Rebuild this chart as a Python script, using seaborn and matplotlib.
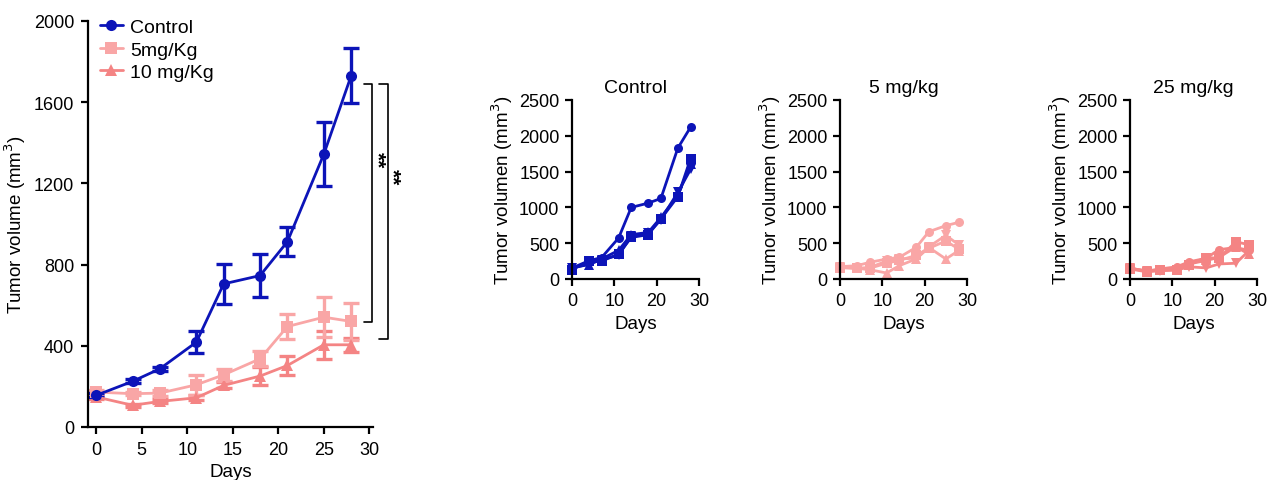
import numpy as np
import pandas as pd
import matplotlib
matplotlib.use("Agg")
import matplotlib.pyplot as plt
import seaborn as sns

sns.set_theme(style="ticks")
plt.rcParams['font.family'] = ['Liberation Sans', 'DejaVu Sans']
plt.rcParams['text.color'] = 'black'
plt.rcParams['axes.labelcolor'] = 'black'
plt.rcParams['xtick.color'] = 'black'
plt.rcParams['ytick.color'] = 'black'

# ---------------- data ----------------
days = [0, 4, 7, 11, 14, 18, 21, 25, 28]

# main panel: group means and SEM
control_mean = [156, 225, 287, 418, 705, 746, 913, 1344, 1730]
control_sem = [10, 10, 10, 54, 97, 105, 73, 159, 135]
low_mean = [172, 164, 167, 208, 257, 336, 495, 541, 520]
low_sem = [12, 8, 15, 48, 30, 37, 62, 100, 90]
mid_mean = [148, 107, 126, 144, 205, 251, 303, 405, 405]
mid_sem = [8, 8, 10, 12, 15, 45, 49, 69, 35]
group_names = ["Control", "5mg/Kg", "10 mg/Kg"]

# individual mice (small panels)
ctrl_m1 = [153, 255, 300, 572, 1000, 1060, 1125, 1828, 2120]
ctrl_m2 = [130, 250, 250, 350, 580, 620, 840, 1150, 1680]
ctrl_m3 = [160, 200, 280, 400, 620, 650, 860, 1170, 1600]
ctrl_m4 = [150, 210, 270, 330, 600, 640, 830, 1210, 1530]

d5_m1 = [172, 186, 233, 279, 303, 442, 661, 745, 791]
d5_m2 = [160, 150, 150, 220, 260, 330, 430, 530, 420]
d5_m3 = [160, 150, 130, 84, 186, 280, 440, 280, 395]
d5_m4 = [170, 150, 160, 250, 280, 290, 450, 610, 480]

d25_m1 = [150, 110, 140, 170, 240, 290, 410, 440, 400]
d25_m2 = [140, 100, 120, 130, 200, 300, 290, 520, 480]
d25_m3 = [150, 110, 130, 150, 210, 260, 300, 450, 350]
d25_m4 = [150, 110, 115, 125, 170, 155, 210, 220, 390]

panel_titles = ["Control", "5 mg/kg", "25 mg/kg"]

BLUE = "#0C14B8"
PINK = "#F9A6A6"
SALMON = "#F48484"

# ---------------- figure ----------------
W, H = 1269, 481
fig = plt.figure(figsize=(W / 100, H / 100), dpi=100)

def px_axes(left, top, right, bottom):
    return fig.add_axes([left / W, 1 - bottom / H, (right - left) / W, (bottom - top) / H])

def style_axes(ax, lw=1.6, pad=3):
    for s in ["top", "right"]:
        ax.spines[s].set_visible(False)
    for s in ["left", "bottom"]:
        ax.spines[s].set_linewidth(lw)
        ax.spines[s].set_color("black")
    ax.tick_params(direction="out", length=5, width=lw, colors="black",
                   labelcolor="black", labelsize=13, pad=pad)

# main panel
ax = px_axes(88, 22, 373, 428)
main_df = pd.concat([
    pd.DataFrame({"Days": days, "Volume": control_mean, "Group": group_names[0]}),
    pd.DataFrame({"Days": days, "Volume": low_mean, "Group": group_names[1]}),
    pd.DataFrame({"Days": days, "Volume": mid_mean, "Group": group_names[2]}),
])
colors = {group_names[0]: BLUE, group_names[1]: PINK, group_names[2]: SALMON}
markers = {group_names[0]: "o", group_names[1]: "s", group_names[2]: "^"}
for means, sems, name in [(mid_mean, mid_sem, group_names[2]),
                          (low_mean, low_sem, group_names[1]),
                          (control_mean, control_sem, group_names[0])]:
    ax.errorbar(days, means, yerr=sems, fmt="none", ecolor=colors[name],
                elinewidth=2.4, capsize=6, capthick=2.4, zorder=2, clip_on=False)
sns.lineplot(data=main_df, x="Days", y="Volume", hue="Group", style="Group",
             palette=colors, markers=markers, dashes=False, linewidth=2.0,
             markersize=8, markeredgewidth=0, ax=ax, zorder=3, clip_on=False,
             hue_order=group_names[::-1], style_order=group_names[::-1])
ax.set_xlim(-0.9, 30.4)
ax.set_ylim(0, 2000)
ax.set_xticks([0, 5, 10, 15, 20, 25, 30])
ax.set_yticks([0, 400, 800, 1200, 1600, 2000])
style_axes(ax, pad=5)
ax.set_xlabel("Days", fontsize=13.5, labelpad=4)
ax.set_ylabel("Tumor volume (mm$^3$)", fontsize=13.5, labelpad=4)
handles, labels = ax.get_legend_handles_labels()
order = [labels.index(n) for n in group_names]
ax.legend([handles[i] for i in order], [labels[i] for i in order],
          loc="upper left", bbox_to_anchor=(0.0, 1.035), frameon=False,
          fontsize=14, handlelength=1.2, handletextpad=0.35, labelspacing=0.25,
          borderaxespad=0.2)

# significance brackets
def bracket(x_end, x_line, y_top, y_bot, star_x, star_y):
    ax.plot([x_end, x_line, x_line, x_end], [y_top, y_top, y_bot, y_bot],
            color="black", lw=1.2, clip_on=False)
    ax.text(star_x, star_y, "**", rotation=-90,
            ha="center", va="center", fontsize=15, fontweight="bold", clip_on=False)

bracket(29.4, 30.3, 1692, 516, 30.8, 1320)
bracket(31.1, 32.1, 1692, 434, 32.5, 1236)

# small panels
panels = [
    (572, [ctrl_m1, ctrl_m2, ctrl_m3, ctrl_m4], BLUE),
    (840, [d5_m1, d5_m2, d5_m3, d5_m4], PINK),
    (1130, [d25_m1, d25_m2, d25_m3, d25_m4], SALMON),
]
mouse_markers = {"m1": "o", "m2": "s", "m3": "^", "m4": "v"}
for (left, mice, col), title in zip(panels, panel_titles):
    sax = px_axes(left, 101, left + 127, 280)
    df = pd.concat([pd.DataFrame({"Days": days, "Volume": m, "Mouse": f"m{i+1}"})
                    for i, m in enumerate(mice)])
    sns.lineplot(data=df, x="Days", y="Volume", style="Mouse", markers=mouse_markers,
                 dashes=False, color=col, linewidth=2.0, markersize=6.5,
                 markeredgewidth=0, ax=sax, legend=False, clip_on=False)
    sax.set_xlim(0, 30)
    sax.set_ylim(0, 2500)
    sax.set_xticks([0, 10, 20, 30])
    sax.set_yticks([0, 500, 1000, 1500, 2000, 2500])
    style_axes(sax, pad=4)
    sax.set_xlabel("Days", fontsize=13.5, labelpad=5)
    sax.set_ylabel("Tumor volumen (mm$^3$)", fontsize=13.5, labelpad=3)
    sax.set_title(title, fontsize=14, pad=6)

fig.savefig("out.png", dpi=100)
